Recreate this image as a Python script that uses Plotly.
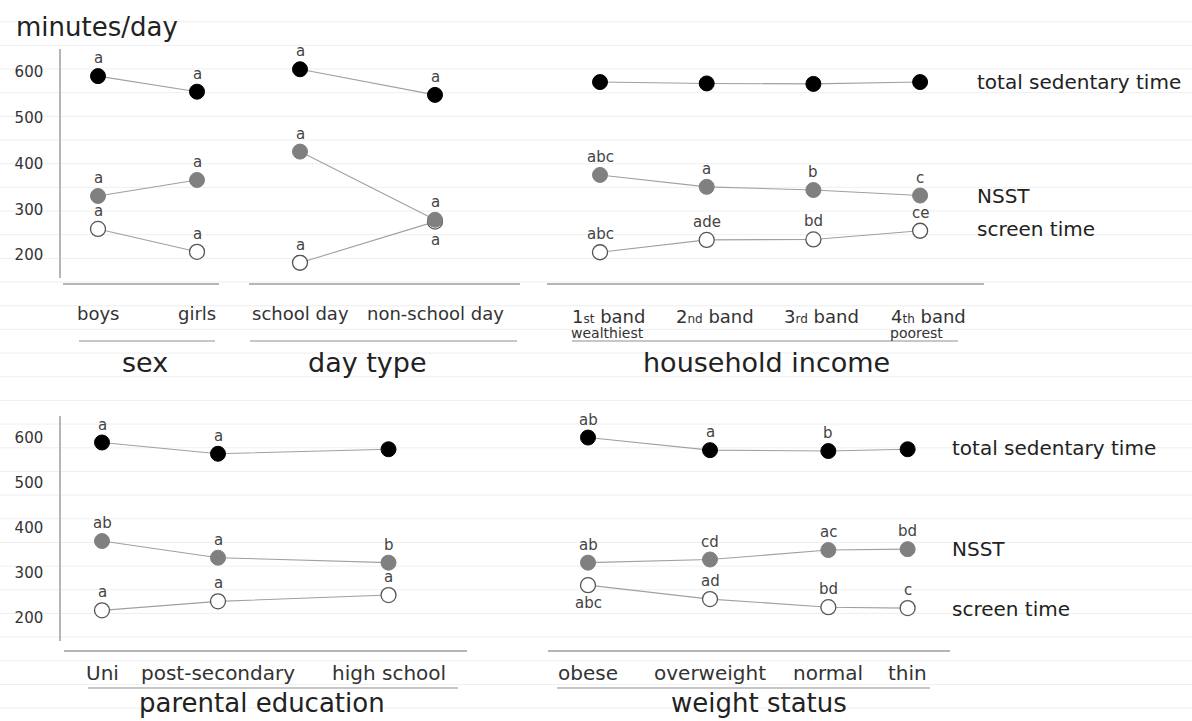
import plotly.graph_objects as go

W, H = 1192, 721
FONT = "DejaVu Sans"
SERIES = ["total sedentary time", "NSST", "screen time"]

# ---- data -------------------------------------------------------------
sex_cats = ["boys", "girls"]
sex_total = [591, 557]
sex_nsst = [329, 364]
sex_screen = [257, 207]
sex_total_lbl = ["a", "a"]
sex_nsst_lbl = ["a", "a"]
sex_screen_lbl = ["a", "a"]

day_cats = ["school day", "non-school day"]
day_total = [606, 550]
day_nsst = [426, 277]
day_screen = [183, 273]
day_total_lbl = ["a", "a"]
day_nsst_lbl = ["a", "a"]
day_screen_lbl = ["a", "a"]

inc_cats = ["1st band", "2nd band", "3rd band", "4th band"]
inc_total = [578, 575, 574, 578]
inc_nsst = [375, 349, 342, 330]
inc_screen = [206, 233, 234, 253]
inc_total_lbl = ["", "", "", ""]
inc_nsst_lbl = ["abc", "a", "b", "c"]
inc_screen_lbl = ["abc", "ade", "bd", "ce"]

edu_cats = ["Uni", "post-secondary", "high school"]
edu_total = [590, 565, 575]
edu_nsst = [371, 334, 323]
edu_screen = [217, 237, 251]
edu_total_lbl = ["a", "a", ""]
edu_nsst_lbl = ["ab", "a", "b"]
edu_screen_lbl = ["a", "a", "a"]

wt_cats = ["obese", "overweight", "normal", "thin"]
wt_total = [601, 573, 571, 575]
wt_nsst = [323, 330, 351, 353]
wt_screen = [273, 242, 224, 222]
wt_total_lbl = ["ab", "a", "b", ""]
wt_nsst_lbl = ["ab", "cd", "ac", "bd"]
wt_screen_lbl = ["abc", "ad", "bd", "c"]

y_ticks = [200, 300, 400, 500, 600]

# ---- layout helpers (pixel -> paper) ----------------------------------
def px(x):
    return x / W

def py(y):
    return 1 - y / H

# panel geometry: axis-line extent, first slot pixel, slot spacing, slot offsets
panels = [
    dict(name="sex", cats=sex_cats, total=sex_total, nsst=sex_nsst, screen=sex_screen,
         lt=sex_total_lbl, ln=sex_nsst_lbl, ls=sex_screen_lbl, row=0,
         line=(63, 219), x0=98, step=99, slots=[0, 1], under=(79, 215), title_x=145),
    dict(name="day type", cats=day_cats, total=day_total, nsst=day_nsst, screen=day_screen,
         lt=day_total_lbl, ln=day_nsst_lbl, ls=day_screen_lbl, row=0,
         line=(249, 520), x0=300, step=135, slots=[0, 1], under=(250, 517), title_x=367),
    dict(name="household income", cats=inc_cats, total=inc_total, nsst=inc_nsst, screen=inc_screen,
         lt=inc_total_lbl, ln=inc_nsst_lbl, ls=inc_screen_lbl, row=0,
         line=(547, 984), x0=600, step=106.7, slots=[0, 1, 2, 3], under=(572, 958), title_x=766),
    dict(name="parental education", cats=edu_cats, total=edu_total, nsst=edu_nsst, screen=edu_screen,
         lt=edu_total_lbl, ln=edu_nsst_lbl, ls=edu_screen_lbl, row=1,
         line=(64, 467), x0=102, step=116, slots=[0, 1, 2.47], under=(88, 458), title_x=262),
    dict(name="weight status", cats=wt_cats, total=wt_total, nsst=wt_nsst, screen=wt_screen,
         lt=wt_total_lbl, ln=wt_nsst_lbl, ls=wt_screen_lbl, row=1,
         line=(548, 950), x0=588, step=122, slots=[0, 1, 1.97, 2.62], under=(557, 930), title_x=759),
]

# rows: y pixel of value 600, pixels per minute, axis line y, labels y, underline y, title y
rows = [
    dict(y600=72, k=0.4575, axis_y=284, cat_y=313, cat_size=18, under_y=341, title_y=362,
         title_size=27, series_x=975, series_y=[82, 196, 229]),
    dict(y600=438, k=0.45, axis_y=651, cat_y=673, cat_size=20, under_y=688, title_y=703,
         title_size=26, series_x=950, series_y=[448, 549, 609]),
]

YMIN, YMAX = 150, 650

fig = go.Figure()
layout = dict(
    width=W, height=H, margin=dict(l=0, r=0, t=0, b=0),
    paper_bgcolor="white", plot_bgcolor="rgba(0,0,0,0)",
    showlegend=False, font=dict(family=FONT, color="#333"),
)
shapes, annotations = [], []


def note(**kw):
    kw.setdefault("showarrow", False)
    kw.setdefault("xanchor", "center")
    kw.setdefault("yanchor", "middle")
    annotations.append(kw)


# faint ruled background lines
for i in range(30):
    yy = 21.7 + 23.67 * i
    shapes.append(dict(type="line", xref="paper", yref="paper", x0=0, x1=1,
                       y0=py(yy), y1=py(yy), line=dict(color="#efefef", width=1),
                       layer="below"))

# y axes (one per row)
for r, row in enumerate(rows):
    top_px = row["y600"] - (YMAX - 600) * row["k"]
    bot_px = row["y600"] + (600 - YMIN) * row["k"]
    yname = "yaxis" if r == 0 else "yaxis2"
    layout[yname] = dict(
        domain=[py(bot_px), py(top_px)], range=[YMIN, YMAX],
        anchor="free", position=px(60), side="left",
        showline=True, linecolor="#b5b5b5", linewidth=1.5,
        showgrid=False, zeroline=False, tickvals=y_ticks, ticks="",
        ticklabelstandoff=13, tickfont=dict(size=15, color="#333", family=FONT),
    )

styles = {
    "total": dict(color="black", line=dict(color="black", width=1)),
    "nsst": dict(color="#808080", line=dict(color="#808080", width=1)),
    "screen": dict(color="white", line=dict(color="#555", width=1.3)),
}

for i, p in enumerate(panels):
    row = rows[p["row"]]
    xa = "x" if i == 0 else f"x{i + 1}"
    xname = "xaxis" if i == 0 else f"xaxis{i + 1}"
    ya = "y" if p["row"] == 0 else "y2"
    lo, hi = p["line"]
    layout[xname] = dict(
        domain=[px(lo), px(hi)],
        range=[(lo - p["x0"]) / p["step"], (hi - p["x0"]) / p["step"]],
        anchor="free", position=py(row["axis_y"]),
        showline=True, linecolor="#b5b5b5", linewidth=1.5,
        showgrid=False, zeroline=False, showticklabels=False, ticks="",
    )
    xs = p["slots"]
    # screen time first so the filled markers sit on top where they overlap
    for key, vals, lbls in (("screen", p["screen"], p["ls"]),
                            ("nsst", p["nsst"], p["ln"]),
                            ("total", p["total"], p["lt"])):
        fig.add_trace(go.Scatter(
            x=xs, y=vals, xaxis=xa, yaxis=ya, mode="lines+markers",
            line=dict(color="#a0a0a0", width=1.1),
            marker=dict(size=15, color=styles[key]["color"], line=styles[key]["line"]),
            hoverinfo="skip", cliponaxis=False,
        ))
        for j, (xv, v, t) in enumerate(zip(xs, vals, lbls)):
            if not t:
                continue
            below = (p["name"] == "day type" and key == "screen" and j == 1) or \
                    (p["name"] == "weight status" and key == "screen" and j == 0)
            note(x=xv, y=v, xref=xa, yref=ya, text=t,
                 yshift=-18 if below else 18,
                 font=dict(size=15, color="#444", family=FONT))
    # category labels
    for xv, c in zip(xs, p["cats"]):
        if p["name"] == "household income":
            num, rest = c.split(" ", 1)
            txt = f"{num[0]}<span style='font-size:12px'>{num[1:]}</span> {rest}"
            note(x=xv, y=py(row["cat_y"] + 3), xref=xa, yref="paper", text=txt, xshift=8,
                 font=dict(size=18, color="#333", family=FONT))
        else:
            note(x=xv, y=py(row["cat_y"]), xref=xa, yref="paper", text=c,
                 font=dict(size=row["cat_size"], color="#333", family=FONT))
    if p["name"] == "household income":
        note(x=xs[0], y=py(row["cat_y"] + 20), xref=xa, yref="paper", text="wealthiest",
             xshift=7, font=dict(size=14, color="#333", family=FONT))
        note(x=xs[-1], y=py(row["cat_y"] + 20), xref=xa, yref="paper", text="poorest",
             xshift=-4, font=dict(size=14, color="#333", family=FONT))
    # underline and group title
    u0, u1 = p["under"]
    shapes.append(dict(type="line", xref="paper", yref="paper", x0=px(u0), x1=px(u1),
                       y0=py(row["under_y"]), y1=py(row["under_y"]),
                       line=dict(color="#b5b5b5", width=1.5)))
    note(x=px(p["title_x"]), y=py(row["title_y"]), xref="paper", yref="paper",
         text=p["name"], font=dict(size=row["title_size"], color="#222", family=FONT))

# series names on the right
for row in rows:
    for name, yy in zip(SERIES, row["series_y"]):
        note(x=px(row["series_x"]), y=py(yy), xref="paper", yref="paper",
             text=name, xanchor="left", font=dict(size=20, color="#222", family=FONT))

note(x=px(14), y=py(27), xref="paper", yref="paper", text="minutes/day",
     xanchor="left", font=dict(size=26, color="#222", family=FONT))

layout["shapes"] = shapes
layout["annotations"] = annotations
fig.update_layout(**layout)
fig.write_html("out.html")
